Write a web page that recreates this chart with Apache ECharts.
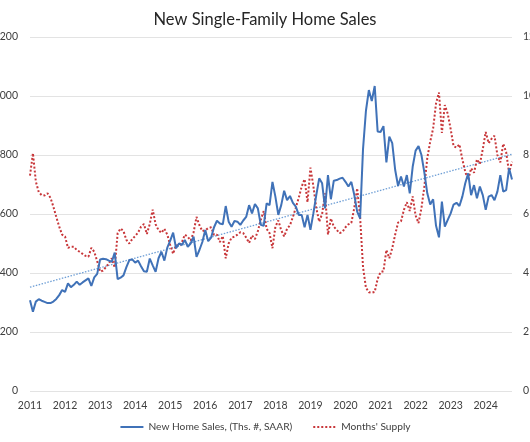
<!DOCTYPE html>
<html>
<head>
<meta charset="utf-8">
<script src="https://cdn.jsdelivr.net/npm/echarts@6/dist/echarts.min.js"></script>
<style>
html,body{margin:0;padding:0;background:#fff;}
#chart{width:530px;height:442px;}
</style>
</head>
<body>
<div id="chart"></div>
<script>
// Monthly series, Jan 2011 onward
const startYear = 2011;
const sales = [
308,269,303,311,306,302,298,298,303,312,325,342,
336,365,352,360,371,360,368,375,382,356,385,397,
446,448,447,442,438,469,379,384,392,420,444,446,
435,442,423,406,404,449,426,404,450,472,442,486,
510,537,484,500,495,512,489,500,523,455,478,505,
546,508,520,555,577,568,565,627,574,557,576,574,
563,578,590,630,602,634,619,563,560,636,630,709,
659,597,630,679,647,661,638,625,597,597,555,597,
546,602,664,721,704,619,732,650,713,715,720,723,
709,693,709,665,608,585,820,950,1020,983,1034,880,
878,898,775,862,840,750,695,727,693,732,670,760,
815,830,800,740,670,632,650,560,521,642,557,580,
602,632,638,627,659,704,738,664,698,653,693,664,
614,659,664,647,676,732,676,681,755,717
];
const supply = [
7.30,8.06,7.10,6.74,6.64,6.63,6.70,6.55,6.25,5.90,5.57,5.30,
5.24,4.85,4.89,4.89,4.78,4.72,4.65,4.58,4.55,4.85,4.72,4.40,
4.05,4.08,4.20,4.33,4.50,4.18,5.35,5.51,5.42,5.12,5.00,5.15,
5.25,5.37,5.57,5.66,5.32,5.66,6.15,5.65,5.45,5.36,5.50,5.30,
4.95,4.65,4.95,4.92,5.04,5.30,5.23,5.10,5.38,5.90,5.62,5.42,
5.45,5.52,5.55,5.29,5.30,5.05,5.25,4.50,5.00,5.20,5.23,5.30,
5.38,5.35,5.20,5.02,5.27,5.15,5.42,5.80,6.10,5.50,5.35,4.84,
5.57,5.78,5.45,5.24,5.50,5.62,5.90,6.22,6.55,6.93,7.18,6.40,
7.57,6.95,6.20,5.74,6.00,6.70,5.30,5.85,5.57,5.46,5.35,5.40,
5.55,5.65,5.70,6.20,6.87,5.90,4.20,3.50,3.35,3.33,3.36,3.80,
4.03,4.06,4.78,4.50,4.84,5.30,5.71,5.75,6.14,6.40,6.10,6.60,
5.95,5.69,6.20,6.93,7.90,8.45,8.90,9.75,10.12,8.75,9.69,9.40,
8.88,8.30,8.25,8.36,7.85,7.43,7.15,7.55,7.40,7.85,7.70,8.20,
8.78,8.40,8.55,8.65,8.00,7.75,8.38,8.10,7.40,7.77
];
// Linear trend of sales: value at first and last month
const trendEnds = [352, 803];
const leftTicks = [0, 200, 400, 600, 800, 1000, 1200];
const rightTicks = [0, 2, 4, 6, 8, 10, 12];

const months = sales.map((_, i) => (startYear + Math.floor(i / 12)) + '-' + String(i % 12 + 1).padStart(2, '0'));

const FONT = 'Lato';
const chart = echarts.init(document.getElementById('chart'), null, {renderer: 'canvas'});
chart.setOption({
  animation: false,
  backgroundColor: '#ffffff',
  title: {
    text: 'New Single-Family Home Sales',
    left: 'center',
    top: 6,
    textStyle: {fontFamily: FONT, fontSize: 16.5, fontWeight: 'normal', color: '#262626'}
  },
  legend: {
    data: ['New Home Sales, (Ths. #, SAAR)', "Months' Supply"],
    bottom: 5,
    left: 'center',
    itemWidth: 23,
    itemHeight: 10,
    itemGap: 20,
    itemStyle: {opacity: 0},
    textStyle: {fontFamily: FONT, fontSize: 10.2, color: '#404040'}
  },
  grid: {left: 30, right: 18, top: 37, bottom: 51, containLabel: false, outerBoundsMode: 'none'},
  xAxis: {
    type: 'category',
    data: months,
    boundaryGap: false,
    axisLine: {show: false},
    axisTick: {show: false},
    splitLine: {show: false},
    axisLabel: {
      interval: (i) => i % 12 === 0,
      formatter: (v) => v.slice(0, 4),
      margin: 9,
      fontFamily: FONT,
      fontSize: 10.5,
      color: '#404040'
    }
  },
  yAxis: [
    {
      type: 'value',
      min: leftTicks[0], max: leftTicks[leftTicks.length - 1], interval: leftTicks[1] - leftTicks[0],
      axisLine: {show: false}, axisTick: {show: false},
      splitLine: {lineStyle: {color: '#e3e3e3', width: 1}},
      axisLabel: {
        margin: 12, fontFamily: FONT, fontSize: 10.5, color: '#404040',
        formatter: (v) => v.toLocaleString('en-US')
      }
    },
    {
      type: 'value',
      min: rightTicks[0], max: rightTicks[rightTicks.length - 1], interval: rightTicks[1] - rightTicks[0],
      axisLine: {show: false}, axisTick: {show: false},
      splitLine: {show: false},
      axisLabel: {margin: 11, fontFamily: FONT, fontSize: 10.5, color: '#404040'}
    }
  ],
  series: [
    {
      name: 'Trend',
      type: 'line',
      yAxisIndex: 0,
      data: [[0, trendEnds[0]], [sales.length - 1, trendEnds[1]]],
      symbol: 'none',
      silent: true,
      lineStyle: {color: '#6f9fd6', width: 1.3, type: [1.5, 1.5]},
      z: 1
    },
    {
      name: "Months' Supply",
      type: 'line',
      yAxisIndex: 1,
      data: supply,
      symbol: 'none',
      lineStyle: {color: '#c8373a', width: 2, type: [2, 2]},
      itemStyle: {color: '#c8373a'},
      z: 2
    },
    {
      name: 'New Home Sales, (Ths. #, SAAR)',
      type: 'line',
      yAxisIndex: 0,
      data: sales,
      symbol: 'none',
      lineStyle: {color: '#4072b8', width: 2},
      itemStyle: {color: '#4072b8'},
      z: 3
    }
  ]
});
</script>
</body>
</html>
